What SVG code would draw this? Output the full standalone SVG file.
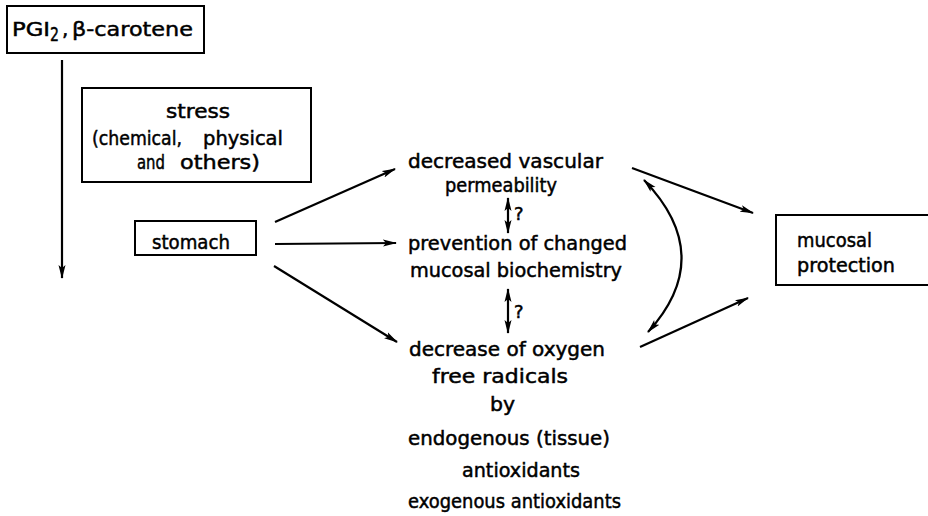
<svg xmlns="http://www.w3.org/2000/svg" width="928" height="516" viewBox="0 0 928 516">
<style>
text{font-family:"DejaVu Sans","Liberation Sans",sans-serif;font-size:20px;fill:#000;stroke:#000;stroke-width:0.5}
.q{font-size:18px}
.box{fill:#fff;stroke:#000;stroke-width:2}
.c{fill:none;stroke:#000;stroke-width:2.2}
</style>
<defs>
<marker id="ah" viewBox="0 0 14 8" refX="13" refY="4" markerWidth="14" markerHeight="8" markerUnits="userSpaceOnUse" orient="auto-start-reverse">
<path d="M0,0.5 L14,4 L0,7.5 L3,4 Z" fill="#000"/>
</marker>
</defs>
<rect width="928" height="516" fill="#fff"/>
<g id="pgi2">
<rect class="box" x="7" y="6" width="197" height="47"/>
<text x="12" y="36" textLength="38" lengthAdjust="spacingAndGlyphs">PGI</text>
<text x="50" y="41" font-size="17" textLength="9" lengthAdjust="spacingAndGlyphs">2</text>
<text x="62" y="36">,</text>
<text x="72" y="36" textLength="121" lengthAdjust="spacingAndGlyphs">β-carotene</text>
</g>
<g id="stress">
<rect class="box" x="82" y="88" width="229" height="94"/>
<text x="166" y="118" textLength="64" lengthAdjust="spacingAndGlyphs">stress</text>
<text x="92" y="145" textLength="90" lengthAdjust="spacingAndGlyphs">(chemical,</text>
<text x="203" y="145" textLength="80" lengthAdjust="spacingAndGlyphs">physical</text>
<text x="137" y="169" textLength="28" lengthAdjust="spacingAndGlyphs">and</text>
<text x="180" y="169" textLength="80" lengthAdjust="spacingAndGlyphs">others)</text>
</g>
<g id="stomach">
<rect class="box" x="135" y="221" width="121" height="34"/>
<text x="152" y="249" textLength="78" lengthAdjust="spacingAndGlyphs">stomach</text>
</g>
<g id="vascular">
<text x="408" y="168" textLength="195" lengthAdjust="spacingAndGlyphs">decreased vascular</text>
<text x="445" y="192" font-size="18" textLength="112" lengthAdjust="spacingAndGlyphs">permeability</text>
</g>
<g id="biochem">
<text x="408" y="250" textLength="219" lengthAdjust="spacingAndGlyphs">prevention of changed</text>
<text x="410" y="277" textLength="212" lengthAdjust="spacingAndGlyphs">mucosal biochemistry</text>
</g>
<g id="radicals">
<text x="409" y="356" textLength="196" lengthAdjust="spacingAndGlyphs">decrease of oxygen</text>
<text x="432" y="383" textLength="136" lengthAdjust="spacingAndGlyphs">free radicals</text>
<text x="490" y="411" textLength="25" lengthAdjust="spacingAndGlyphs">by</text>
<text x="408" y="445" textLength="202" lengthAdjust="spacingAndGlyphs">endogenous (tissue)</text>
<text x="462" y="477" textLength="118" lengthAdjust="spacingAndGlyphs">antioxidants</text>
<text x="408" y="508" textLength="213" lengthAdjust="spacingAndGlyphs">exogenous antioxidants</text>
</g>
<g id="protection">
<rect class="box" x="776" y="215" width="160" height="70"/>
<text x="797" y="247" textLength="75" lengthAdjust="spacingAndGlyphs">mucosal</text>
<text x="797" y="272" textLength="98" lengthAdjust="spacingAndGlyphs">protection</text>
</g>
<g id="connectors">
<line class="c" x1="62" y1="60" x2="62" y2="278" marker-end="url(#ah)"/>
<line class="c" x1="275" y1="222" x2="395" y2="169" marker-end="url(#ah)"/>
<line class="c" x1="275" y1="244" x2="396" y2="243" marker-end="url(#ah)"/>
<line class="c" x1="274" y1="266" x2="397" y2="342" marker-end="url(#ah)"/>
<line class="c" x1="508" y1="198" x2="508" y2="233" marker-start="url(#ah)" marker-end="url(#ah)"/>
<text class="q" x="514" y="220">?</text>
<line class="c" x1="508" y1="289" x2="508" y2="333" marker-start="url(#ah)" marker-end="url(#ah)"/>
<text class="q" x="514" y="318">?</text>
<line class="c" x1="632" y1="168" x2="753" y2="213" marker-end="url(#ah)"/>
<line class="c" x1="640" y1="347" x2="748" y2="298" marker-end="url(#ah)"/>
<path class="c" d="M644,180 Q717,256 648,332" marker-start="url(#ah)" marker-end="url(#ah)"/>
</g>
</svg>
